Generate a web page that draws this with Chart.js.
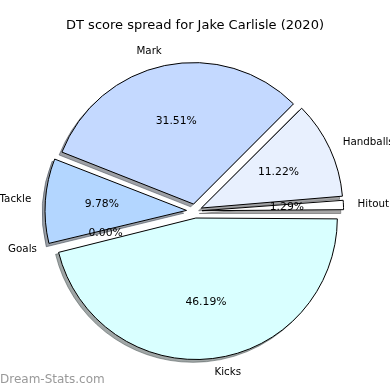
<!DOCTYPE html>
<html><head><meta charset="utf-8">
<script src="https://cdn.jsdelivr.net/npm/chart.js@4/dist/chart.umd.min.js"></script>
<style>html,body{margin:0;padding:0;background:#fff}#wrap{width:390px;height:390px;position:relative}</style>
</head><body><div id="wrap"><canvas id="c" width="390" height="390"></canvas></div>
<script>
// ---- data ----
const titleText = 'DT score spread for Jake Carlisle (2020)';
const categories = ['Kicks', 'Goals', 'Tackle', 'Mark', 'Handballs', 'Hitout'];
const shares = [46.19, 0.00, 9.78, 31.51, 11.22, 1.29];
const sliceColors = ['#d9ffff', '#ffffff', '#b3d6ff', '#c4d9ff', '#e8f0fe', '#ffffff'];
const explode = [0.05, 0.05, 0.06, 0.05, 0.05, 0.05];
const watermark = 'Dream-Stats.com';

const R = 141.5;
const FONT = '"DejaVu Sans", sans-serif';

function hexToRgb(h) {
  const n = parseInt(h.slice(1), 16);
  return [(n >> 16) & 255, (n >> 8) & 255, n & 255];
}

const pieDecor = {
  id: 'pieDecor',
  afterDatasetUpdate(chart, args) {
    args.meta.data.forEach(arc => {
      const off = (arc.options.offset || 0) / 4;
      const fix = 1 - Math.sin(Math.min(Math.PI, arc.circumference || 0));
      arc.outerRadius = R - off * fix;
    });
  },
  beforeDatasetsDraw(chart) {
    const ctx = chart.ctx;
    const meta = chart.getDatasetMeta(0);
    meta.data.forEach((arc, i) => {
      if (!arc.circumference) return;
      const off = (arc.options.offset || 0) / 4;
      const mid = (arc.startAngle + arc.endAngle) / 2;
      const cx = arc.x + Math.cos(mid) * off - 2.8;
      const cy = arc.y + Math.sin(mid) * off + 2.8;
      const rgb = hexToRgb(sliceColors[i]).map(v => Math.round(v * 0.3));
      const col = `rgba(${rgb[0]},${rgb[1]},${rgb[2]},0.5)`;
      ctx.save();
      ctx.beginPath();
      ctx.moveTo(cx, cy);
      ctx.arc(cx, cy, R, arc.startAngle, arc.endAngle);
      ctx.closePath();
      ctx.fillStyle = col;
      ctx.strokeStyle = col;
      ctx.lineWidth = 1;
      ctx.fill();
      ctx.stroke();
      ctx.restore();
    });
  },
  afterDatasetsDraw(chart) {
    const ctx = chart.ctx;
    const meta = chart.getDatasetMeta(0);
    ctx.save();
    ctx.fillStyle = '#000';
    ctx.textBaseline = 'middle';
    meta.data.forEach((arc, i) => {
      const off = (arc.options.offset || 0) / 4;
      const mid = (arc.startAngle + arc.endAngle) / 2;
      const dx = Math.cos(mid), dy = Math.sin(mid);
      const cx = arc.x + dx * off, cy = arc.y + dy * off;
      // category label
      ctx.font = '10.3px ' + FONT;
      ctx.textAlign = dx >= 0 ? 'left' : 'right';
      ctx.fillText(categories[i], cx + dx * R * 1.1, cy + dy * R * 1.1);
      // percentage
      ctx.font = '10.8px ' + FONT;
      ctx.textAlign = 'center';
      ctx.fillText(shares[i].toFixed(2) + '%', cx + dx * R * 0.6, cy + dy * R * 0.6);
    });
    ctx.fillStyle = '#999';
    ctx.font = '12px ' + FONT;
    ctx.textAlign = 'left';
    ctx.fillText(watermark, 0, 380);
    ctx.restore();
  }
};

new Chart(document.getElementById('c'), {
  type: 'pie',
  data: {
    labels: categories,
    datasets: [{
      data: shares,
      backgroundColor: sliceColors,
      borderColor: '#000',
      borderWidth: 1,
      borderJoinStyle: 'miter',
      offset: explode.map(e => e * R * 4),
      radius: R
    }]
  },
  options: {
    responsive: false,
    animation: false,
    devicePixelRatio: 1,
    rotation: 90,
    layout: { padding: { top: 0, bottom: 1.6, left: 0, right: 0 } },
    plugins: {
      legend: { display: false },
      tooltip: { enabled: false },
      title: {
        display: true,
        text: titleText,
        color: '#000',
        font: { family: FONT, size: 13, weight: 'normal' },
        padding: { top: 18, bottom: 0 }
      }
    }
  },
  plugins: [pieDecor]
});
</script>
</body></html>
